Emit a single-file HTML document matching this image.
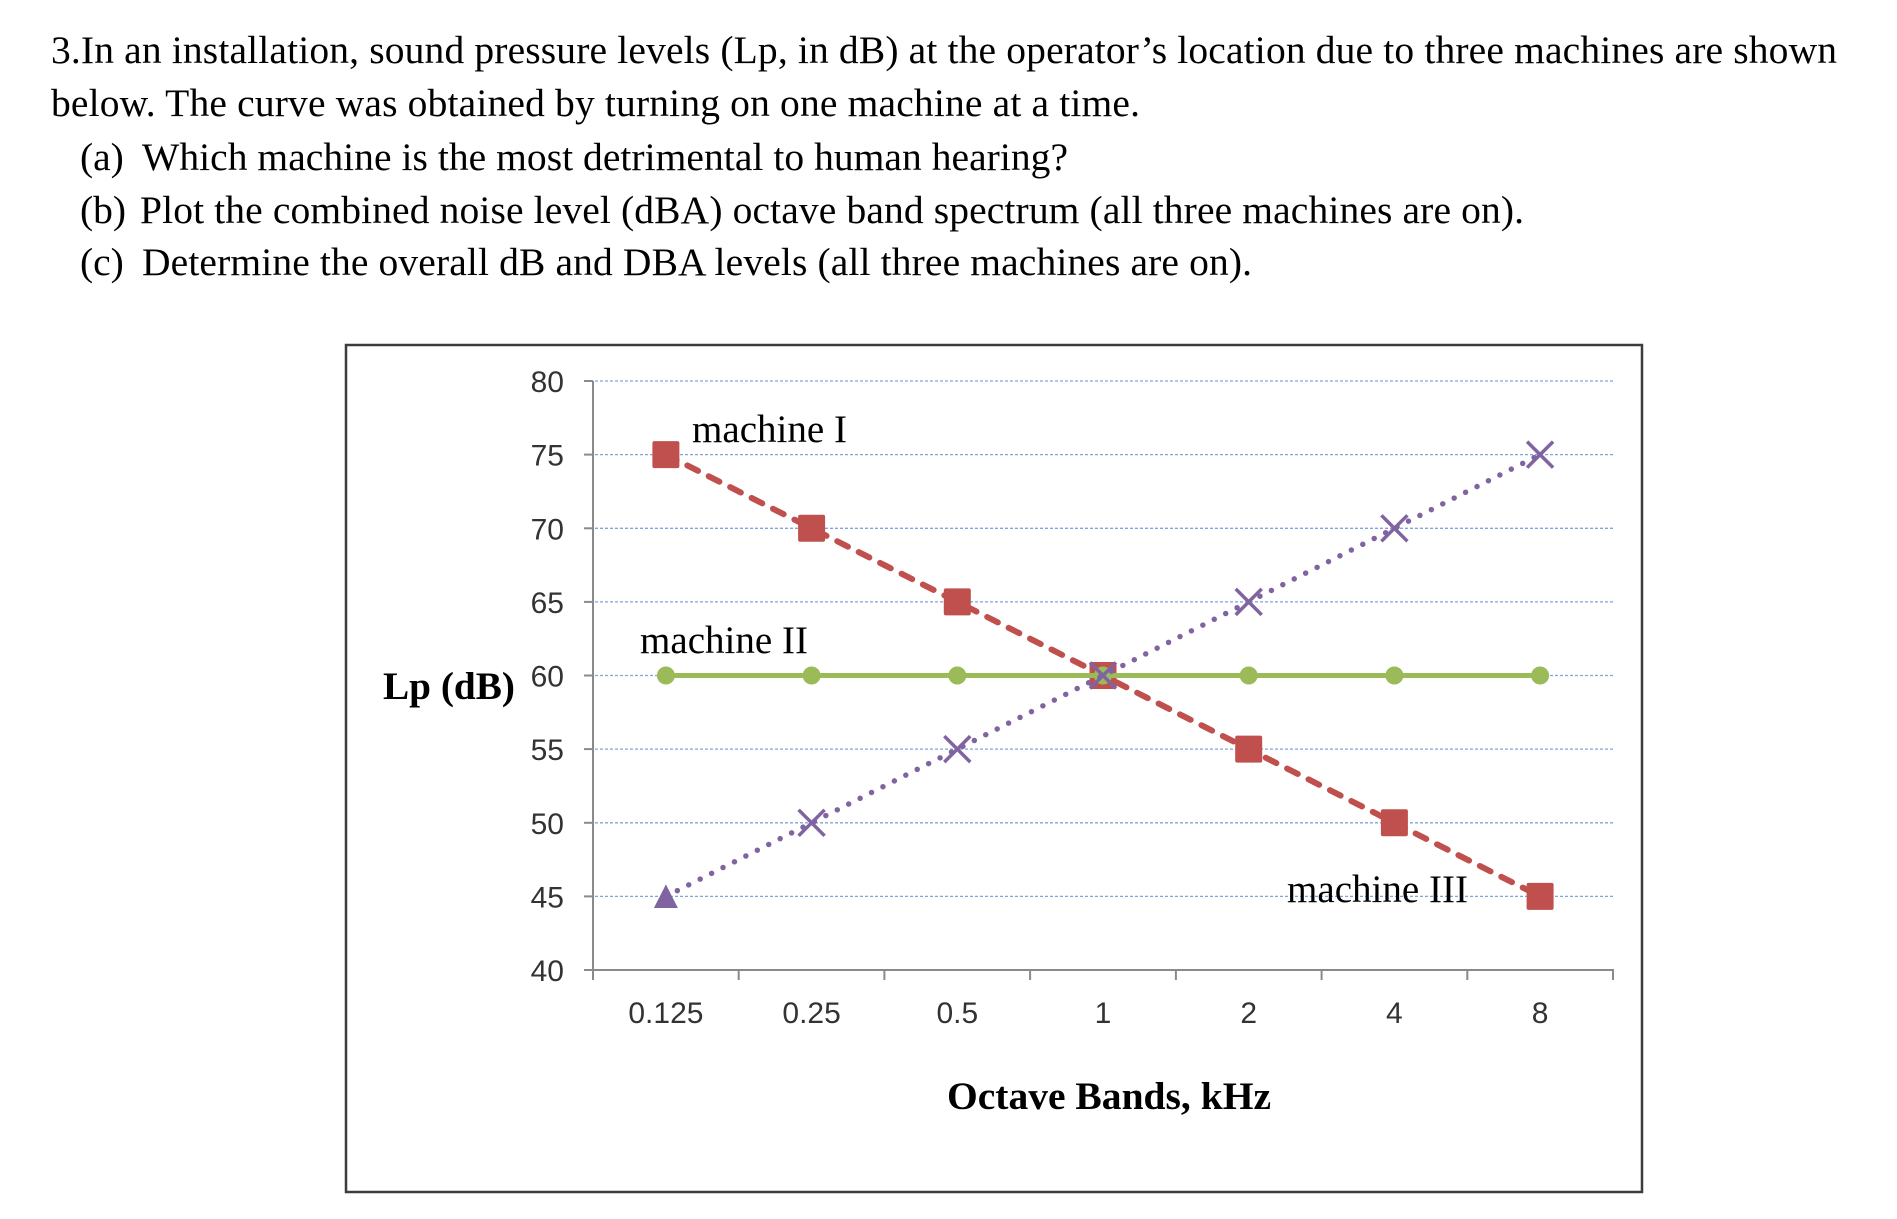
<!DOCTYPE html>
<html>
<head>
<meta charset="utf-8">
<style>
  html, body { margin: 0; padding: 0; background: #ffffff; }
  body { width: 1897px; height: 1219px; overflow: hidden; }
  svg { display: block; }
</style>
</head>
<body>
<svg width="1897" height="1219" viewBox="0 0 1897 1219" xmlns="http://www.w3.org/2000/svg">
  <rect x="0" y="0" width="1897" height="1219" fill="#ffffff"/>

  <!-- Question text -->
  <g font-family="'Liberation Serif', serif" font-size="39.5" fill="#000">
    <text x="51" y="63" textLength="1786" lengthAdjust="spacing">3.In an installation, sound pressure levels (Lp, in dB) at the operator’s location due to three machines are shown</text>
    <text x="51" y="116" textLength="1089" lengthAdjust="spacing">below. The curve was obtained by turning on one machine at a time.</text>
    <text x="80" y="170">(a)</text>
    <text x="142" y="170" textLength="926" lengthAdjust="spacing">Which machine is the most detrimental to human hearing?</text>
    <text x="80" y="223">(b)</text>
    <text x="140" y="223" textLength="1384" lengthAdjust="spacing">Plot the combined noise level (dBA) octave band spectrum (all three machines are on).</text>
    <text x="80" y="275">(c)</text>
    <text x="142" y="275" textLength="1110" lengthAdjust="spacing">Determine the overall dB and DBA levels (all three machines are on).</text>
  </g>

  <!-- Chart frame -->
  <rect x="346" y="345" width="1296" height="847" fill="#ffffff" stroke="#3c3c3c" stroke-width="2.5"/>

  <!-- Gridlines -->
  <g stroke="#82a3da" stroke-width="1.3" stroke-dasharray="3 2" fill="none">
    <line x1="595" y1="381" x2="1613" y2="381"/>
    <line x1="595" y1="454.6" x2="1613" y2="454.6"/>
    <line x1="595" y1="528.3" x2="1613" y2="528.3"/>
    <line x1="595" y1="601.9" x2="1613" y2="601.9"/>
    <line x1="595" y1="675.5" x2="1613" y2="675.5"/>
    <line x1="595" y1="749.1" x2="1613" y2="749.1"/>
    <line x1="595" y1="822.8" x2="1613" y2="822.8"/>
    <line x1="595" y1="896.4" x2="1613" y2="896.4"/>
  </g>

  <!-- Axes -->
  <g stroke="#8a8a8a" stroke-width="2" fill="none">
    <line x1="593" y1="381" x2="593" y2="980"/>
    <line x1="584" y1="970" x2="1614" y2="970"/>
    <line x1="584" y1="381" x2="593" y2="381"/>
    <line x1="584" y1="454.6" x2="593" y2="454.6"/>
    <line x1="584" y1="528.3" x2="593" y2="528.3"/>
    <line x1="584" y1="601.9" x2="593" y2="601.9"/>
    <line x1="584" y1="675.5" x2="593" y2="675.5"/>
    <line x1="584" y1="749.1" x2="593" y2="749.1"/>
    <line x1="584" y1="822.8" x2="593" y2="822.8"/>
    <line x1="584" y1="896.4" x2="593" y2="896.4"/>
    <line x1="738.7" y1="970" x2="738.7" y2="980"/>
    <line x1="884.4" y1="970" x2="884.4" y2="980"/>
    <line x1="1030.1" y1="970" x2="1030.1" y2="980"/>
    <line x1="1175.9" y1="970" x2="1175.9" y2="980"/>
    <line x1="1321.6" y1="970" x2="1321.6" y2="980"/>
    <line x1="1467.3" y1="970" x2="1467.3" y2="980"/>
    <line x1="1613" y1="970" x2="1613" y2="980"/>
  </g>

  <!-- Y tick labels -->
  <g font-family="'Liberation Sans', sans-serif" font-size="30" fill="#333" text-anchor="end">
    <text x="564" y="392">80</text>
    <text x="564" y="465.5">75</text>
    <text x="564" y="539.3">70</text>
    <text x="564" y="612.9">65</text>
    <text x="564" y="686.5">60</text>
    <text x="564" y="760.1">55</text>
    <text x="564" y="833.8">50</text>
    <text x="564" y="907.4">45</text>
    <text x="564" y="981">40</text>
  </g>

  <!-- X tick labels -->
  <g font-family="'Liberation Sans', sans-serif" font-size="30" fill="#333" text-anchor="middle">
    <text x="665.9" y="1023">0.125</text>
    <text x="811.6" y="1023">0.25</text>
    <text x="957.3" y="1023">0.5</text>
    <text x="1103" y="1023">1</text>
    <text x="1248.7" y="1023">2</text>
    <text x="1394.4" y="1023">4</text>
    <text x="1540.1" y="1023">8</text>
  </g>

  <!-- Axis titles -->
  <g font-family="'Liberation Serif', serif" font-size="39" font-weight="bold" fill="#000">
    <text x="383" y="699" textLength="132" lengthAdjust="spacingAndGlyphs">Lp (dB)</text>
    <text x="947" y="1109" textLength="324" lengthAdjust="spacingAndGlyphs">Octave Bands, kHz</text>
  </g>

  <!-- Machine I (red dashed) -->
  <polyline points="665.9,454.6 811.6,528.3 957.3,601.9 1103,675.5 1248.7,749.1 1394.4,822.8 1540.1,896.4"
            fill="none" stroke="#C0504D" stroke-width="6" stroke-dasharray="12 12" stroke-linecap="round" stroke-linejoin="round"/>
  <g fill="#C0504D">
    <rect x="652.4" y="441.1" width="27" height="27" rx="2"/>
    <rect x="798.1" y="514.8" width="27" height="27" rx="2"/>
    <rect x="943.8" y="588.4" width="27" height="27" rx="2"/>
    <rect x="1089.5" y="662" width="27" height="27" rx="2"/>
    <rect x="1235.2" y="735.6" width="27" height="27" rx="2"/>
    <rect x="1380.9" y="809.3" width="27" height="27" rx="2"/>
    <rect x="1526.6" y="882.9" width="27" height="27" rx="2"/>
  </g>

  <!-- Machine II (green solid) -->
  <line x1="665.9" y1="675.5" x2="1540.1" y2="675.5" stroke="#9BBB59" stroke-width="5"/>
  <g fill="#9BBB59">
    <circle cx="665.9" cy="675.5" r="9"/>
    <circle cx="811.6" cy="675.5" r="9"/>
    <circle cx="957.3" cy="675.5" r="9"/>
    <circle cx="1103" cy="675.5" r="9"/>
    <circle cx="1248.7" cy="675.5" r="9"/>
    <circle cx="1394.4" cy="675.5" r="9"/>
    <circle cx="1540.1" cy="675.5" r="9"/>
  </g>

  <!-- Machine III (purple dotted) -->
  <polyline points="665.9,896.4 811.6,822.8 957.3,749.1 1103,675.5 1248.7,601.9 1394.4,528.3 1540.1,454.6"
            fill="none" stroke="#8064A2" stroke-width="5.5" stroke-dasharray="0 12.8" stroke-linecap="round"/>
  <polygon points="665.9,884.4 677.9,908 653.9,908" fill="#8064A2"/>
  <g stroke="#8064A2" stroke-width="3.5" fill="none">
    <path d="M798.6,809.8 L824.6,835.8 M824.6,809.8 L798.6,835.8"/>
    <path d="M944.3,736.1 L970.3,762.1 M970.3,736.1 L944.3,762.1"/>
    <path d="M1090,662.5 L1116,688.5 M1116,662.5 L1090,688.5"/>
    <path d="M1235.7,588.9 L1261.7,614.9 M1261.7,588.9 L1235.7,614.9"/>
    <path d="M1381.4,515.3 L1407.4,541.3 M1407.4,515.3 L1381.4,541.3"/>
    <path d="M1527.1,441.6 L1553.1,467.6 M1553.1,441.6 L1527.1,467.6"/>
  </g>

  <!-- Series labels -->
  <g font-family="'Liberation Serif', serif" font-size="39" fill="#000">
    <text x="692" y="442" textLength="155" lengthAdjust="spacingAndGlyphs">machine I</text>
    <text x="640" y="653" textLength="168" lengthAdjust="spacingAndGlyphs">machine II</text>
    <text x="1287" y="902" textLength="181" lengthAdjust="spacingAndGlyphs">machine III</text>
  </g>
</svg>
</body>
</html>
